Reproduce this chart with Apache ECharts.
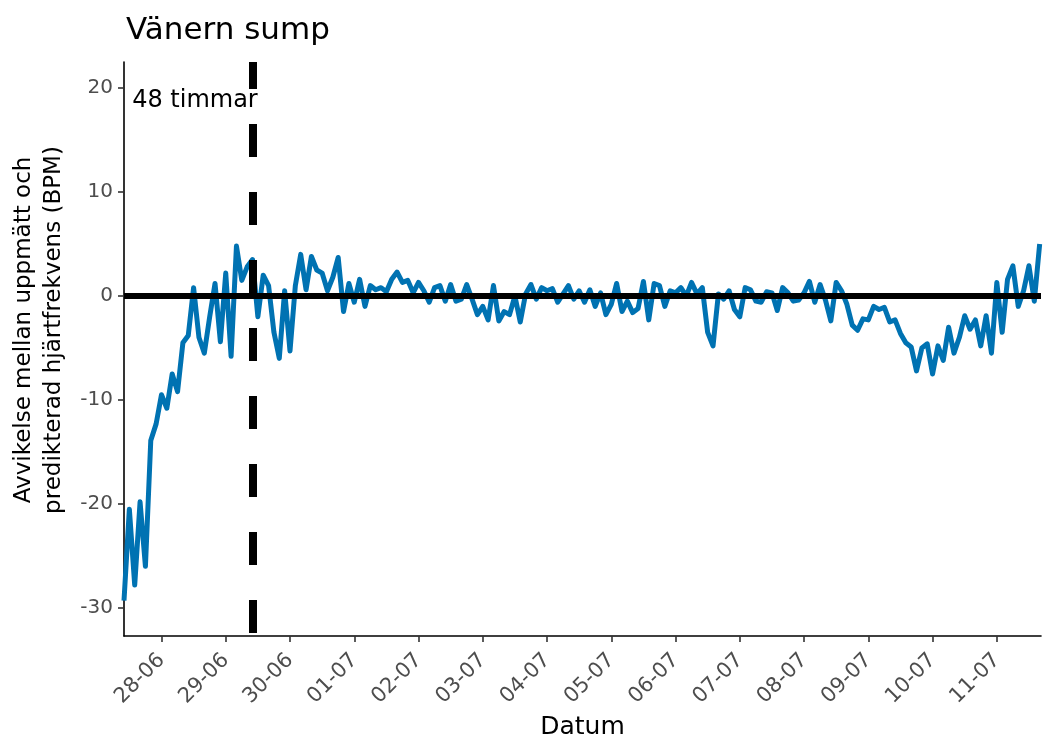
<!DOCTYPE html>
<html>
<head>
<meta charset="utf-8">
<style>
  html, body { margin: 0; padding: 0; background: #ffffff; }
  #chart { width: 1043px; height: 742px; }
</style>
<script src="https://cdn.jsdelivr.net/npm/echarts@6/dist/echarts.min.js"></script>
</head>
<body>
<div id="chart"></div>
<script>
// data: one reading every 2 hours from the start time
const startTime = '2021-06-27T10:00:00';
const stepHours = 2;
const endTime = '2021-07-11T16:30:00';
const deviation = [
  -29.3, -20.5, -27.8, -19.8, -26.0, -13.9, -12.3, -9.5, -10.8, -7.5,
  -9.2, -4.5, -3.8, 0.8, -4.0, -5.5, -2.0, 1.2, -4.4, 2.2,
  -5.8, 4.8, 1.5, 2.8, 3.5, -2.0, 2.0, 1.0, -3.5, -6.0,
  0.5, -5.3, 1.0, 4.0, 0.6, 3.8, 2.5, 2.2, 0.5, 1.8,
  3.7, -1.5, 1.2, -0.6, 1.6, -1.0, 1.0, 0.6, 0.8, 0.4,
  1.6, 2.3, 1.3, 1.5, 0.3, 1.3, 0.5, -0.6, 0.8, 1.0,
  -0.5, 1.1, -0.5, -0.3, 1.1, -0.3, -1.8, -1.0, -2.3, 1.0,
  -2.4, -1.5, -1.8, 0.0, -2.5, 0.2, 1.1, -0.3, 0.8, 0.5,
  0.7, -0.6, 0.2, 1.0, -0.3, 0.5, -0.6, 0.6, -1.0, 0.3,
  -1.8, -0.8, 1.2, -1.5, -0.5, -1.6, -1.2, 1.4, -2.3, 1.2,
  1.0, -1.0, 0.5, 0.3, 0.8, 0.0, 1.3, 0.2, 0.8, -3.5,
  -4.8, 0.2, -0.3, 0.5, -1.3, -2.0, 0.8, 0.6, -0.5, -0.6,
  0.4, 0.3, -1.4, 0.8, 0.3, -0.5, -0.4, 0.3, 1.4, -0.6,
  1.1, -0.4, -2.4, 1.3, 0.5, -0.8, -2.8, -3.3, -2.2, -2.3,
  -1.0, -1.3, -1.1, -2.5, -2.3, -3.6, -4.5, -4.9, -7.2, -5.0,
  -4.6, -7.5, -4.8, -6.2, -3.0, -5.5, -4.0, -1.9, -3.2, -2.3,
  -4.8, -1.9, -5.5, 1.3, -3.5, 1.6, 2.9, -1.0, 0.5, 2.9,
  -0.5, 5.0
];

const tickDays = [
  '2021-06-28', '2021-06-29', '2021-06-30', '2021-07-01', '2021-07-02',
  '2021-07-03', '2021-07-04', '2021-07-05', '2021-07-06', '2021-07-07',
  '2021-07-08', '2021-07-09', '2021-07-10', '2021-07-11'
];
const tickLabels = [
  '28-06', '29-06', '30-06', '01-07', '02-07', '03-07', '04-07',
  '05-07', '06-07', '07-07', '08-07', '09-07', '10-07', '11-07'
];
const yTicks = [-30, -20, -10, 0, 10, 20];
const yMin = -32.7;
const yMax = 22.5;

// 48 hours after start
const markTime = '2021-06-29T10:00:00';
const noteText = '48 timmar';
const noteTime = '2021-06-28T12:30:00';
const noteValue = 18.8;

const fontName = 'DejaVu Sans';

const ms = s => new Date(s).getTime();
const t0 = ms(startTime);
const seriesData = deviation.map((v, i) => [t0 + i * stepHours * 3600 * 1000, v]);
const tickValues = tickDays.map(d => ms(d + 'T00:00:00'));

const chart = echarts.init(document.getElementById('chart'));

const option = {
  backgroundColor: '#ffffff',
  animation: false,
  title: {
    text: 'Vänern sump',
    left: 121,
    top: 10,
    textStyle: {
      fontFamily: fontName,
      fontSize: 31,
      fontWeight: 'normal',
      color: '#000000'
    }
  },
  grid: {
    left: 124,
    right: 2,
    top: 62,
    bottom: 106,
    containLabel: false,
    outerBoundsMode: 'none'
  },
  xAxis: {
    type: 'value',
    min: ms(startTime),
    max: ms(endTime),
    name: 'Datum',
    nameLocation: 'middle',
    nameGap: 71,
    nameTextStyle: {
      fontFamily: fontName,
      fontSize: 25,
      color: '#000000'
    },
    axisLine: {
      onZero: false,
      lineStyle: { color: '#000000', width: 1.6 }
    },
    axisTick: {
      show: true,
      length: 6,
      customValues: tickValues,
      lineStyle: { color: '#333333', width: 1.6 }
    },
    axisLabel: {
      customValues: tickValues,
      rotate: 45,
      margin: 21,
      fontFamily: fontName,
      fontSize: 21,
      color: '#4d4d4d',
      formatter: function (val) {
        const idx = tickValues.indexOf(val);
        return idx >= 0 ? tickLabels[idx] : '';
      }
    },
    splitLine: { show: false }
  },
  yAxis: {
    type: 'value',
    min: yMin,
    max: yMax,
    name: 'Avvikelse mellan uppmätt och\npredikterad hjärtfrekvens (BPM)',
    nameLocation: 'middle',
    nameGap: 50,
    nameTextStyle: {
      fontFamily: fontName,
      fontSize: 23,
      lineHeight: 30,
      color: '#000000',
      padding: [0, 0, 0, 38]
    },
    axisLine: {
      show: true,
      onZero: false,
      lineStyle: { color: '#000000', width: 1.6 }
    },
    axisTick: {
      show: true,
      length: 6,
      customValues: yTicks,
      lineStyle: { color: '#333333', width: 1.6 }
    },
    axisLabel: {
      customValues: yTicks,
      margin: 11,
      fontFamily: fontName,
      fontSize: 20,
      color: '#4d4d4d'
    },
    splitLine: { show: false }
  },
  series: [
    {
      name: 'Avvikelse',
      type: 'line',
      data: seriesData,
      showSymbol: false,
      symbol: 'none',
      lineStyle: { color: '#0072B2', width: 5, join: 'round' },
      z: 2,
      markLine: {
        silent: true,
        symbol: ['none', 'none'],
        label: { show: false },
        data: [
          {
            yAxis: 0,
            lineStyle: { color: '#000000', width: 6, type: 'solid' }
          },
          {
            xAxis: ms(markTime),
            lineStyle: { color: '#000000', width: 8, type: [33, 35], dashOffset: 65 }
          }
        ]
      },
      markPoint: {
        silent: true,
        symbol: 'rect',
        symbolSize: 1,
        itemStyle: { color: 'rgba(0,0,0,0)' },
        label: {
          show: true,
          position: 'inside',
          fontFamily: fontName,
          fontSize: 24,
          color: '#000000',
          formatter: noteText
        },
        data: [{ coord: [ms(noteTime), noteValue] }]
      }
    }
  ]
};

chart.setOption(option);
</script>
</body>
</html>
